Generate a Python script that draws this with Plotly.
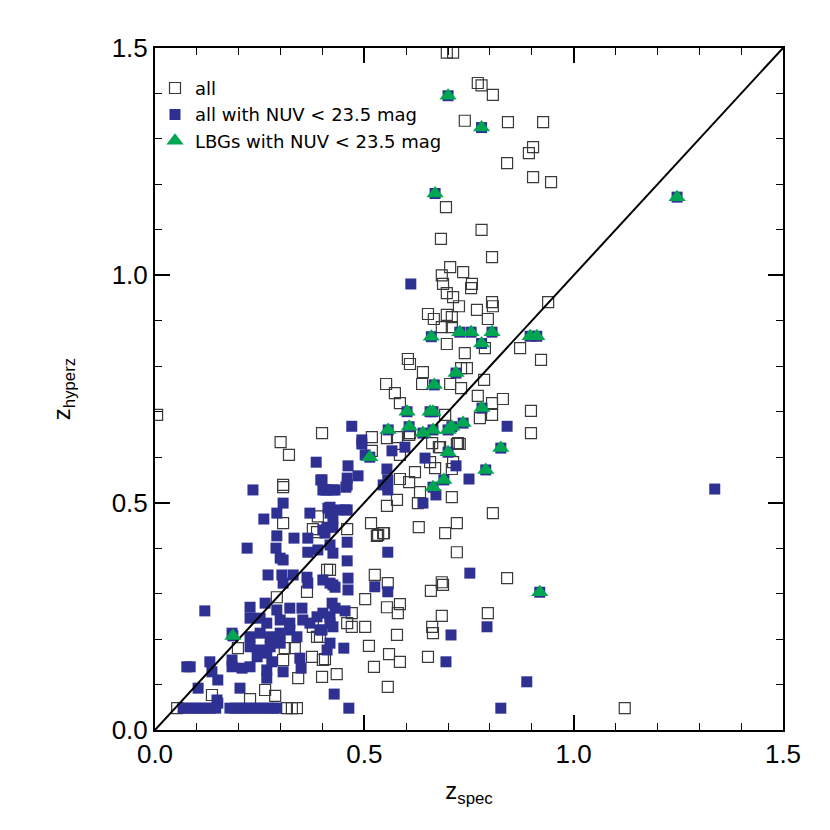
import plotly.graph_objects as go

# open squares: the full sample (only the ones not hidden under filled markers)
ALL_X = [0.697, 0.712, 0.771, 0.74, 0.78, 0.807, 0.843, 0.927, 0.903, 0.893, 0.841, 0.903, 0.946, 0.78, 0.695,
         0.683, 0.805, 0.705, 0.736, 0.685, 0.688, 0.757, 0.755, 0.697, 0.712, 0.726, 0.805, 0.807, 0.769, 0.652,
         0.666, 0.697, 0.709, 0.709, 0.795, 0.685, 0.939, 0.697, 0.788, 0.872, 0.922, 0.74, 0.604, 0.609, 0.64,
         0.731, 0.745, 0.552, 0.638, 0.705, 0.731, 0.786, 0.573, 0.585, 0.771, 0.805, 0.831, 0.898, 0.693, 0.776,
         0.805, 0.898, 0.518, 0.554, 0.609, 0.662, 0.678, 0.724,
         0.005, 0.399, 0.30, 0.32, 0.306, 0.306, 0.389, 0.377, 0.387, 0.411,
         0.578, 0.607, 0.681, 0.721, 0.728, 0.518, 0.585, 0.657, 0.669, 0.712, 0.709, 0.621, 0.585, 0.607, 0.633,
         0.709, 0.578, 0.554, 0.628, 0.516, 0.533, 0.545, 0.63, 0.693, 0.721, 0.807, 0.459, 0.721, 0.418, 0.525,
         0.556, 0.685,
         0.547, 0.53, 0.841, 0.502, 0.554, 0.585, 0.58, 0.659, 0.688, 0.685, 0.662, 0.664, 0.795, 0.502, 0.511,
         0.578, 0.559, 0.585, 0.652, 0.523, 0.556,
         0.47, 0.459, 0.47, 0.406, 0.434, 0.399, 0.394,
         0.291, 0.363, 0.377, 0.387, 0.334, 0.31, 0.375, 0.401, 0.306, 0.342, 0.198, 0.263, 0.287, 0.227, 0.136,
         0.315, 0.327, 0.339, 0.053, 1.122, 0.306]
ALL_Y = [1.49, 1.49, 1.423, 1.34, 1.418, 1.397, 1.337, 1.337, 1.282, 1.269, 1.247, 1.216, 1.205, 1.10, 1.15,
         1.08, 1.04, 1.018, 1.007, 1.0, 0.981, 0.981, 0.972, 0.961, 0.952, 0.932, 0.941, 0.932, 0.924, 0.915,
         0.904, 0.913, 0.908, 0.886, 0.904, 0.886, 0.941, 0.849, 0.84, 0.84, 0.814, 0.829, 0.816, 0.805, 0.787,
         0.796, 0.796, 0.761, 0.761, 0.761, 0.752, 0.77, 0.741, 0.719, 0.735, 0.719, 0.728, 0.702, 0.693, 0.686,
         0.693, 0.653, 0.644, 0.642, 0.653, 0.631, 0.622, 0.631,
         0.693, 0.653, 0.633, 0.605, 0.534, 0.455, 0.47, 0.442, 0.435, 0.352,
         0.644, 0.649, 0.622, 0.629, 0.629, 0.614, 0.605, 0.589, 0.576, 0.589, 0.574, 0.567, 0.552, 0.545, 0.523,
         0.512, 0.506, 0.493, 0.499, 0.455, 0.429, 0.433, 0.446, 0.433, 0.455, 0.477, 0.442, 0.391, 0.352, 0.341,
         0.323, 0.325,
         0.433, 0.427, 0.334, 0.288, 0.27, 0.277, 0.257, 0.306, 0.319, 0.251, 0.227, 0.213, 0.257, 0.227, 0.185,
         0.209, 0.167, 0.15, 0.161, 0.139, 0.095,
         0.257, 0.235, 0.227, 0.156, 0.123, 0.117, 0.205,
         0.292, 0.304, 0.227, 0.205, 0.18, 0.18, 0.161, 0.154, 0.154, 0.114, 0.18, 0.088, 0.075, 0.068, 0.077,
         0.048, 0.048, 0.048, 0.048, 0.048, 0.539]

# filled squares: NUV < 23.5 (non-LBG part; LBGs are added below)
NUV_X = [0.119, 0.227, 0.263, 0.227, 0.251, 0.291, 0.322, 0.351, 0.387, 0.401, 0.418,
         0.267, 0.299, 0.322, 0.353, 0.370, 0.227, 0.251, 0.275, 0.299, 0.322, 0.339, 0.394,
         0.227, 0.251, 0.275, 0.299, 0.244, 0.267, 0.184, 0.076, 0.084, 0.131, 0.136, 0.150,
         0.184, 0.184, 0.208, 0.227, 0.267, 0.267, 0.279, 0.306, 0.346, 0.349,
         0.103, 0.203, 0.150, 0.148,
         0.067, 0.08, 0.093, 0.106, 0.119, 0.132, 0.145, 0.179, 0.192, 0.205, 0.218, 0.231, 0.244, 0.257,
         0.270, 0.283, 0.291,
         0.234, 0.306, 0.291, 0.260, 0.370, 0.401, 0.425, 0.459, 0.418, 0.435, 0.459, 0.418, 0.401, 0.425,
         0.459, 0.291, 0.332, 0.365, 0.365, 0.389, 0.418, 0.425, 0.220, 0.289, 0.299, 0.306, 0.459,
         0.270, 0.303, 0.330, 0.306, 0.363, 0.365, 0.401, 0.418, 0.430, 0.461, 0.461,
         0.385, 0.396, 0.406, 0.413, 0.470, 0.494, 0.494, 0.502, 0.566, 0.597,
         0.461, 0.485, 0.459, 0.456, 0.399, 0.411, 0.430, 0.554, 0.556, 0.545, 0.556,
         0.645, 0.719, 0.750, 0.671, 0.640, 0.454, 0.425, 0.411, 0.406, 0.556, 0.752,
         0.525, 0.556, 0.793, 0.707, 0.695, 0.888, 0.826, 0.425,
         0.423, 0.430, 0.454, 0.418, 0.425, 0.399, 0.418, 0.411, 0.451, 0.428, 0.463,
         0.611, 1.337, 0.841]
NUV_Y = [0.262, 0.270, 0.279, 0.246, 0.246, 0.264, 0.268, 0.268, 0.249, 0.257, 0.249,
         0.235, 0.242, 0.235, 0.242, 0.235, 0.205, 0.213, 0.205, 0.213, 0.220, 0.205, 0.220,
         0.183, 0.176, 0.183, 0.191, 0.161, 0.169, 0.213, 0.139, 0.139, 0.150, 0.128, 0.110,
         0.154, 0.139, 0.136, 0.139, 0.132, 0.114, 0.150, 0.128, 0.158, 0.136,
         0.092, 0.092, 0.059, 0.066,
         0.048, 0.048, 0.048, 0.048, 0.048, 0.048, 0.048, 0.048, 0.048, 0.048, 0.048, 0.048, 0.048, 0.048,
         0.048, 0.048, 0.048,
         0.528, 0.499, 0.477, 0.464, 0.477, 0.528, 0.528, 0.539, 0.490, 0.484, 0.484, 0.477, 0.440, 0.446,
         0.413, 0.427, 0.422, 0.422, 0.391, 0.396, 0.407, 0.389, 0.400, 0.400, 0.378, 0.374, 0.372,
         0.341, 0.341, 0.341, 0.323, 0.336, 0.323, 0.330, 0.323, 0.314, 0.334, 0.308,
         0.589, 0.550, 0.528, 0.488, 0.668, 0.638, 0.629, 0.605, 0.614, 0.622,
         0.581, 0.559, 0.554, 0.534, 0.550, 0.528, 0.528, 0.574, 0.550, 0.539, 0.528,
         0.598, 0.581, 0.552, 0.517, 0.499, 0.484, 0.466, 0.446, 0.433, 0.391, 0.345,
         0.315, 0.304, 0.227, 0.209, 0.150, 0.106, 0.048, 0.319,
         0.279, 0.268, 0.262, 0.235, 0.227, 0.220, 0.191, 0.176, 0.180, 0.079, 0.048,
         0.981, 0.530, 0.668]

# triangles: LBGs with NUV < 23.5
LBG_X = [0.70, 0.78, 0.669, 1.247, 0.66, 0.728, 0.755, 0.805, 0.78, 0.896, 0.912, 0.719, 0.667, 0.602, 0.657,
         0.664, 0.781, 0.557, 0.607, 0.64, 0.664, 0.70, 0.709, 0.736, 0.513, 0.70, 0.826, 0.664, 0.69, 0.79,
         0.919, 0.186]
LBG_Y = [1.395, 1.325, 1.18, 1.172, 0.865, 0.875, 0.875, 0.875, 0.85, 0.866, 0.866, 0.785, 0.759, 0.70, 0.70,
         0.70, 0.708, 0.66, 0.667, 0.653, 0.66, 0.66, 0.667, 0.675, 0.60, 0.611, 0.62, 0.534, 0.55, 0.572,
         0.303, 0.207]

ONE_TO_ONE = [0.0, 1.5]

NAVY = "#2E3192"
GREEN = "#00A651"
FONT = "Liberation Sans, Arial, sans-serif"

fig = go.Figure()
fig.add_trace(go.Scatter(x=ALL_X, y=ALL_Y, mode="markers", name="all",
                         marker=dict(symbol="square-open", size=11, color="#3a3a3a",
                                     line=dict(width=1.2))))
fig.add_trace(go.Scatter(x=NUV_X + LBG_X, y=NUV_Y + LBG_Y, mode="markers",
                         name="all with NUV < 23.5 mag",
                         marker=dict(symbol="square", size=11, color=NAVY)))
fig.add_trace(go.Scatter(x=ONE_TO_ONE, y=ONE_TO_ONE, mode="lines", showlegend=False,
                         line=dict(color="black", width=2)))
fig.add_trace(go.Scatter(x=LBG_X, y=LBG_Y, mode="markers", name="LBGs with NUV < 23.5 mag",
                         marker=dict(symbol="triangle-up", size=15, color=GREEN)))

axis = dict(range=[0, 1.5], dtick=0.5, tickformat=".1f", ticks="inside", ticklen=15, tickwidth=1.5,
            tickcolor="black", showline=True, linecolor="black", linewidth=2, mirror="ticks",
            showgrid=False, zeroline=False, tickfont=dict(size=26, color="black"),
            minor=dict(ticks="inside", dtick=0.1, ticklen=7, tickwidth=1.2, tickcolor="black",
                       showgrid=False))

# the page body adds an 8px offset, so the margins are shifted to put the frame at 155..783 x 48..730
fig.update_layout(
    width=830, height=830, paper_bgcolor="white", plot_bgcolor="white",
    font=dict(family=FONT, color="black"),
    margin=dict(l=147, r=55, t=40, b=108),
    showlegend=True,
    legend=dict(x=0.0, y=0.968, xanchor="left", yanchor="top", bgcolor="rgba(0,0,0,0)",
                font=dict(size=18, family="DejaVu Sans, sans-serif"), itemsizing="trace",
                tracegroupgap=0, itemwidth=30),
)
fig.update_xaxes(**axis, title=dict(text="z<sub>spec</sub>", font=dict(size=24), standoff=14))
fig.update_yaxes(**axis, title=dict(text="z<sub>hyperz</sub>", font=dict(size=24), standoff=34))

fig.write_html("out.html")
